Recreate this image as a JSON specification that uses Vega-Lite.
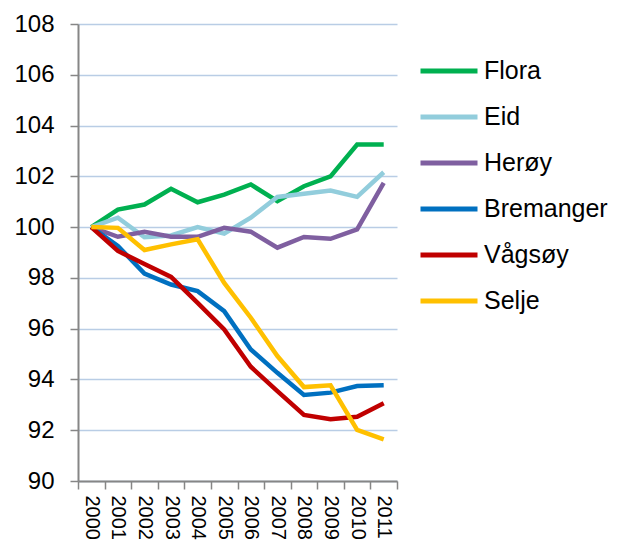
{
  "$schema": "https://vega.github.io/schema/vega-lite/v6.json",
  "autosize": {"type": "none"},
  "padding": {"left": 78, "top": 24, "right": 221, "bottom": 59},
  "width": 319,
  "height": 457,
  "background": "white",
  "config": {
    "font": "Liberation Sans",
    "view": {"stroke": null}
  },
  "data": {
    "values": [
      {"year": "2000", "kommune": "Flora", "value": 100},
      {"year": "2001", "kommune": "Flora", "value": 100.69},
      {"year": "2002", "kommune": "Flora", "value": 100.89},
      {"year": "2003", "kommune": "Flora", "value": 101.51},
      {"year": "2004", "kommune": "Flora", "value": 100.98},
      {"year": "2005", "kommune": "Flora", "value": 101.28},
      {"year": "2006", "kommune": "Flora", "value": 101.68},
      {"year": "2007", "kommune": "Flora", "value": 101.02},
      {"year": "2008", "kommune": "Flora", "value": 101.61},
      {"year": "2009", "kommune": "Flora", "value": 102.0},
      {"year": "2010", "kommune": "Flora", "value": 103.25},
      {"year": "2011", "kommune": "Flora", "value": 103.25},
      {"year": "2000", "kommune": "Eid", "value": 100},
      {"year": "2001", "kommune": "Eid", "value": 100.37},
      {"year": "2002", "kommune": "Eid", "value": 99.6},
      {"year": "2003", "kommune": "Eid", "value": 99.67},
      {"year": "2004", "kommune": "Eid", "value": 100.0},
      {"year": "2005", "kommune": "Eid", "value": 99.74},
      {"year": "2006", "kommune": "Eid", "value": 100.37},
      {"year": "2007", "kommune": "Eid", "value": 101.19},
      {"year": "2008", "kommune": "Eid", "value": 101.31},
      {"year": "2009", "kommune": "Eid", "value": 101.44},
      {"year": "2010", "kommune": "Eid", "value": 101.19},
      {"year": "2011", "kommune": "Eid", "value": 102.16},
      {"year": "2000", "kommune": "Herøy", "value": 100},
      {"year": "2001", "kommune": "Herøy", "value": 99.62},
      {"year": "2002", "kommune": "Herøy", "value": 99.82},
      {"year": "2003", "kommune": "Herøy", "value": 99.62},
      {"year": "2004", "kommune": "Herøy", "value": 99.62},
      {"year": "2005", "kommune": "Herøy", "value": 99.97},
      {"year": "2006", "kommune": "Herøy", "value": 99.82},
      {"year": "2007", "kommune": "Herøy", "value": 99.19},
      {"year": "2008", "kommune": "Herøy", "value": 99.61},
      {"year": "2009", "kommune": "Herøy", "value": 99.54},
      {"year": "2010", "kommune": "Herøy", "value": 99.91},
      {"year": "2011", "kommune": "Herøy", "value": 101.74},
      {"year": "2000", "kommune": "Bremanger", "value": 100},
      {"year": "2001", "kommune": "Bremanger", "value": 99.26},
      {"year": "2002", "kommune": "Bremanger", "value": 98.17},
      {"year": "2003", "kommune": "Bremanger", "value": 97.74},
      {"year": "2004", "kommune": "Bremanger", "value": 97.48},
      {"year": "2005", "kommune": "Bremanger", "value": 96.69},
      {"year": "2006", "kommune": "Bremanger", "value": 95.18},
      {"year": "2007", "kommune": "Bremanger", "value": 94.26},
      {"year": "2008", "kommune": "Bremanger", "value": 93.39},
      {"year": "2009", "kommune": "Bremanger", "value": 93.48},
      {"year": "2010", "kommune": "Bremanger", "value": 93.74},
      {"year": "2011", "kommune": "Bremanger", "value": 93.77},
      {"year": "2000", "kommune": "Vågsøy", "value": 100},
      {"year": "2001", "kommune": "Vågsøy", "value": 99.06},
      {"year": "2002", "kommune": "Vågsøy", "value": 98.55},
      {"year": "2003", "kommune": "Vågsøy", "value": 98.04},
      {"year": "2004", "kommune": "Vågsøy", "value": 97.02},
      {"year": "2005", "kommune": "Vågsøy", "value": 95.97},
      {"year": "2006", "kommune": "Vågsøy", "value": 94.5},
      {"year": "2007", "kommune": "Vågsøy", "value": 93.54},
      {"year": "2008", "kommune": "Vågsøy", "value": 92.6},
      {"year": "2009", "kommune": "Vågsøy", "value": 92.43},
      {"year": "2010", "kommune": "Vågsøy", "value": 92.53},
      {"year": "2011", "kommune": "Vågsøy", "value": 93.06},
      {"year": "2000", "kommune": "Selje", "value": 100},
      {"year": "2001", "kommune": "Selje", "value": 99.97},
      {"year": "2002", "kommune": "Selje", "value": 99.1},
      {"year": "2003", "kommune": "Selje", "value": 99.32},
      {"year": "2004", "kommune": "Selje", "value": 99.52},
      {"year": "2005", "kommune": "Selje", "value": 97.8},
      {"year": "2006", "kommune": "Selje", "value": 96.43},
      {"year": "2007", "kommune": "Selje", "value": 94.92},
      {"year": "2008", "kommune": "Selje", "value": 93.7},
      {"year": "2009", "kommune": "Selje", "value": 93.77},
      {"year": "2010", "kommune": "Selje", "value": 92.01},
      {"year": "2011", "kommune": "Selje", "value": 91.64}
    ]
  },
  "mark": {"type": "line", "strokeWidth": 4.5},
  "encoding": {
    "x": {
      "field": "year",
      "type": "ordinal",
      "scale": {"type": "band", "paddingInner": 0, "paddingOuter": 0},
      "axis": {
        "title": null,
        "labelAngle": 90,
        "labelFontSize": 20,
        "labelColor": "black",
        "labelPadding": 6,
        "tickBand": "extent",
        "tickSize": 8,
        "tickColor": "#868686",
        "tickWidth": 1.5,
        "domainColor": "#868686",
        "domainWidth": 2,
        "grid": false,
        "labelAlign": "left",
        "labelBaseline": "middle"
      }
    },
    "y": {
      "field": "value",
      "type": "quantitative",
      "scale": {"domain": [90, 108], "zero": false, "nice": false},
      "axis": {
        "title": null,
        "values": [90, 92, 94, 96, 98, 100, 102, 104, 106, 108],
        "labelFontSize": 24,
        "labelColor": "black",
        "labelPadding": 16,
        "tickSize": 8,
        "tickColor": "#868686",
        "tickWidth": 1.5,
        "domainColor": "#868686",
        "domainWidth": 2,
        "gridColor": "#B9CDE5",
        "gridWidth": 1.5
      }
    },
    "color": {
      "field": "kommune",
      "type": "nominal",
      "sort": ["Flora", "Eid", "Herøy", "Bremanger", "Vågsøy", "Selje"],
      "scale": {
        "domain": ["Flora", "Eid", "Herøy", "Bremanger", "Vågsøy", "Selje"],
        "range": ["#00B050", "#92CDDC", "#7F5FA0", "#0070C0", "#C00000", "#FFC000"]
      },
      "legend": {
        "title": null,
        "orient": "none",
        "legendX": 340,
        "legendY": 16,
        "symbolType": "stroke",
        "symbolSize": 3249,
        "symbolStrokeWidth": 5,
        "labelFontSize": 25,
        "labelColor": "black",
        "labelOffset": 4,
        "rowPadding": 2,
        "labelLimit": 300
      }
    }
  }
}
